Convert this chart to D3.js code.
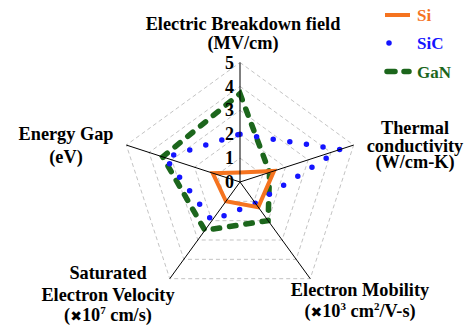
<!DOCTYPE html>
<html><head><meta charset="utf-8">
<script src="https://cdn.jsdelivr.net/npm/d3@7"></script>
<style>body{margin:0;background:#fff}</style>
</head><body>
<svg id="c" width="466" height="325"></svg>
<script>
const axesNames = ["Electric Breakdown field","Thermal conductivity","Electron Mobility","Saturated Electron Velocity","Energy Gap"];
const tickLabels = [0,1,2,3,4,5];
const seriesNames = ["Si","SiC","GaN"];
const siValues  = [0.4, 1.5, 1.3, 1.0, 1.2];
const sicValues = [2.0, 4.4, 1.1, 2.0, 3.3];
const ganValues = [3.7, 1.3, 2.0, 2.5, 3.4];

const FONT = "Liberation Serif";
const svg = d3.select("#c");
const cx = 240, cy = 182, R = 119.5;
const r = d3.scaleLinear().domain([0,5]).range([0,R]);
const ang = d3.scaleLinear().domain([0,5]).range([0,2*Math.PI]);
const pt = (i,v)=>[cx + r(v)*Math.sin(ang(i)), cy - r(v)*Math.cos(ang(i))];

const g = svg.append("g").attr("transform",`translate(${cx},${cy})`);
const radial = d3.lineRadial().angle((d,i)=>ang(i)).radius(d=>r(d)).curve(d3.curveLinearClosed);

// grid
tickLabels.slice(1).forEach(t=>{
  g.append("path").attr("d", radial(axesNames.map(()=>t)))
   .attr("fill","none").attr("stroke","#b4b4b4").attr("stroke-width",0.8).attr("stroke-dasharray","4 3");
});
// axis lines
axesNames.forEach((a,i)=>{
  const p = pt(i,5);
  svg.append("line").attr("x1",cx).attr("y1",cy).attr("x2",p[0]).attr("y2",p[1])
    .attr("stroke","#000").attr("stroke-width",1);
});
// tick labels
tickLabels.forEach(t=>{
  svg.append("text").attr("x",cx-6).attr("y",cy - r(t)).attr("dy","0.34em")
    .attr("font-family",FONT).attr("font-weight","bold")
    .attr("text-anchor","end").attr("font-size",18).text(t);
});

const colors = {Si:"#f5731f", SiC:"#1414ff", GaN:"#1c661c"};
const styles = {
  Si:{w:4, dash:null, cap:"butt"},
  SiC:{w:5.5, dash:"0 16.8", cap:"round"},
  GaN:{w:5.5, dash:"6.5 10", cap:"round"}
};
const data = {Si:siValues, SiC:sicValues, GaN:ganValues};
["GaN","SiC","Si"].forEach(s=>{
  const st = styles[s];
  const p = g.append("path").attr("d", radial(data[s]))
    .attr("fill","none").attr("stroke",colors[s]).attr("stroke-width",st.w)
    .attr("stroke-linecap",st.cap).attr("stroke-linejoin","miter");
  if(st.dash) p.attr("stroke-dasharray",st.dash);
});

// axis titles
const fs = 18.3;
function label(lines, x, baselines){
  const t = svg.append("text").attr("text-anchor","middle").attr("font-size",fs)
    .attr("font-family",FONT).attr("font-weight","bold").attr("fill","#000");
  lines.forEach((l,i)=>{
    const ts = t.append("tspan").attr("x",x).attr("y",baselines[i]);
    l.forEach(seg=>{
      const s = ts.append("tspan").text(seg.t);
      if(seg.x) s.attr("font-family","DejaVu Sans").attr("font-size",14);
      if(seg.sup){ s.attr("font-size",11).attr("dy",-7); }
      if(seg.after){ s.attr("dy",7); }
    });
  });
}
const X = "\u2716";
label([[{t:"Electric Breakdown field"}],[{t:"(MV/cm)"}]], 243, [30, 49]);
label([[{t:"Thermal"}],[{t:"conductivity"}],[{t:"(W/cm-K)"}]], 415, [133.5, 151.5, 168]);
label([[{t:"Energy Gap"}],[{t:"(eV)"}]], 66, [140, 163]);
label([[{t:"Saturated"}],[{t:"Electron Velocity"}],[{t:"("},{t:X,x:true},{t:"10"},{t:"7",sup:true},{t:" cm/s)",after:true}]], 108, [279, 301, 321]);
label([[{t:"Electron Mobility"}],[{t:"("},{t:X,x:true},{t:"10"},{t:"3",sup:true},{t:" cm",after:true},{t:"2",sup:true},{t:"/V-s)",after:true}]], 360, [296, 317]);

// legend
const lg = svg.append("g");
seriesNames.forEach((s,i)=>{
  const y = [15, 43, 71.5][i];
  const st = styles[s];
  const l = lg.append("line").attr("x1",s==="SiC"?389:385).attr("x2",s==="SiC"?405:410).attr("y1",y).attr("y2",y)
    .attr("stroke",colors[s]).attr("stroke-width",st.w).attr("stroke-linecap",s==="Si"?"butt":"round");
  if(s==="SiC") l.attr("stroke-dasharray","0 16");
  if(s==="GaN") l.attr("stroke-dasharray","8 9").attr("x1",387).attr("x2",409);
  lg.append("text").attr("x",417).attr("y",y).attr("dy","0.36em").attr("font-size",17)
    .attr("font-family",FONT).attr("font-weight","bold")
    .attr("fill",colors[s]).text(s);
});
</script>
</body></html>
